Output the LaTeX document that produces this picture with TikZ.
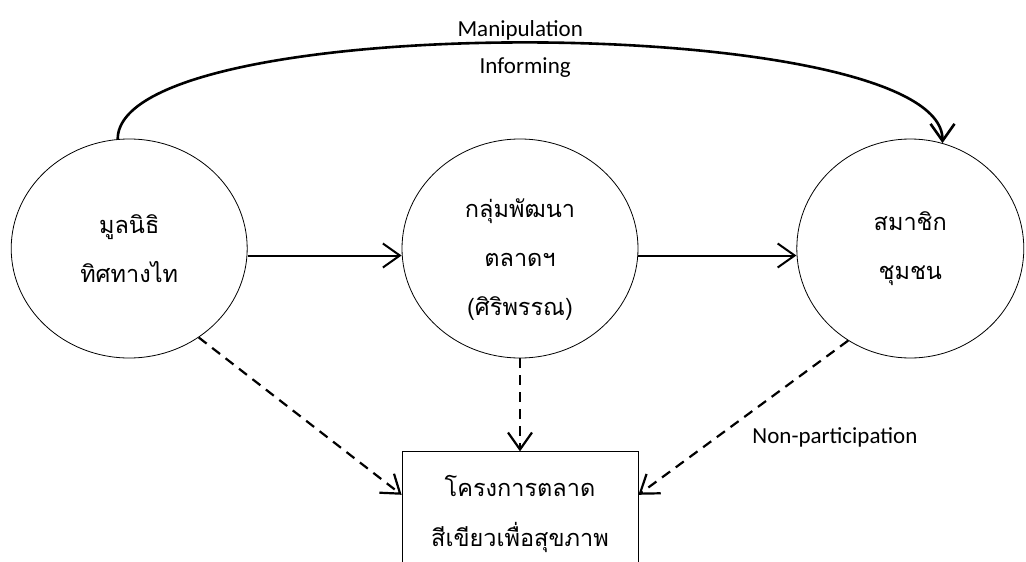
\documentclass[tikz,border=0pt]{standalone}
\usepackage{fontspec}
\setmainfont{Carlito}
\newfontfamily\thaifont[Script=Thai]{Loma}
\usetikzlibrary{shapes,arrows.meta,positioning}

\begin{document}
\begin{tikzpicture}[x=1pt, y=1pt, >={Straight Barb[length=17pt,width=24pt]},
  actor/.style={ellipse, draw, line width=0.8pt, minimum width=236pt, minimum height=219pt, inner sep=0pt, align=center, font=\thaifont\fontsize{23.5}{49}\selectfont},
  solidarr/.style={->, line width=2pt},
  dasharr/.style={->, line width=2.2pt, dash pattern=on 10pt off 7pt},
  lbl/.style={font=\fontsize{23}{28}\selectfont}]
\useasboundingbox (0,0) rectangle (1026,-562);
\node[actor, text height=133pt, text depth=0pt] (dev_group) at (520,-248.5) {กลุ่มพัฒนา\\ตลาดฯ\\(ศิริพรรณ)};
\node[actor, left = 154pt of dev_group] (foundation) {มูลนิธิ\\ทิศทางไท};
\node[actor, minimum width=227pt, right = 158pt of dev_group] (members) {สมาชิก\\ชุมชน};
\node[rectangle, draw, line width=0.8pt, minimum width=236pt, minimum height=124pt, align=center, font=\thaifont\fontsize{23.5}{50}\selectfont, below = 93pt of dev_group] (project) {โครงการตลาด\\สีเขียวเพื่อสุขภาพ};

\path[solidarr] ([yshift=-7pt]foundation.east) edge ([yshift=-7pt]dev_group.west) ([yshift=-7pt]dev_group.east) edge ([yshift=-7pt]members.west);
\draw[->, line width=2.6pt] (foundation.96) .. controls +(0,131) and +(0,131) .. (members.73) node[pos=0.492, above=-2pt, lbl] {Manipulation} node[pos=0.496, below=10pt, lbl] {Informing};
\path[dasharr] (foundation.-52) edge ([yshift=19pt]project.west) (dev_group) edge (project) (members.236) edge node[pos=0.63, right=32pt, lbl] {Non-participation} ([yshift=19pt]project.east);
\end{tikzpicture}
\end{document}
